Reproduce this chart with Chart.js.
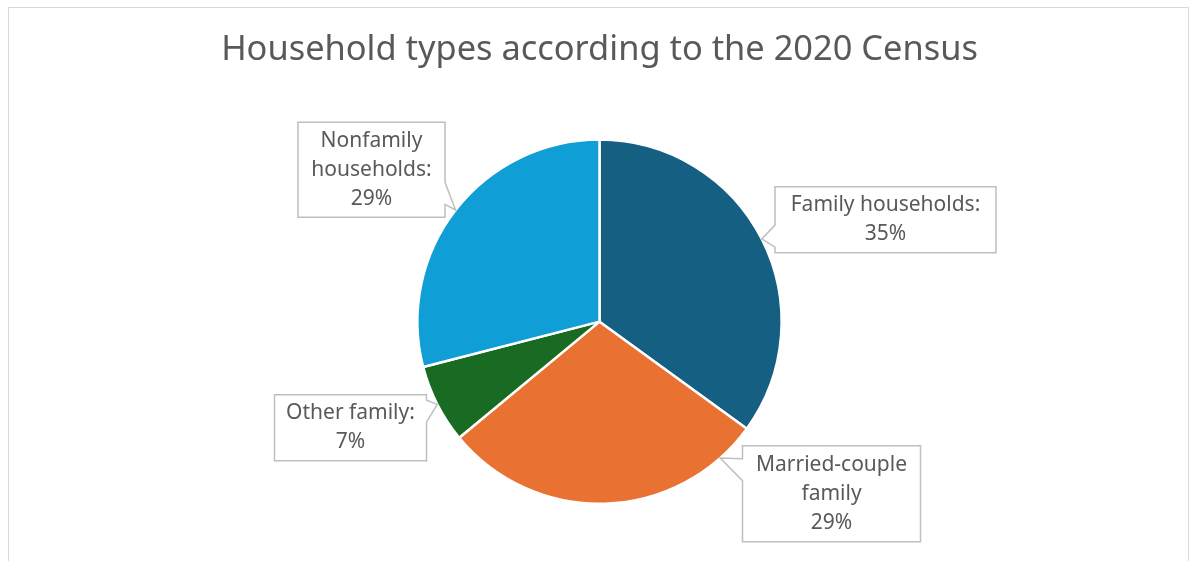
<!DOCTYPE html>
<html>
<head>
<meta charset="utf-8">
<script src="https://cdn.jsdelivr.net/npm/chart.js@4"></script>
<style>
  html, body { margin: 0; padding: 0; background: #fff; }
  #wrap { position: relative; width: 1199px; height: 561px; }
  #frame {
    position: absolute; left: 8px; top: 7px; width: 1181px; height: 600px;
    border: 1.5px solid #d9d9d9; box-sizing: border-box; pointer-events: none;
  }
</style>
</head>
<body>
<div id="wrap">
  <canvas id="censusChart" width="1199" height="561"></canvas>
  <div id="frame"></div>
</div>
<script>
const categories = ['Family households', 'Married-couple family', 'Other family', 'Nonfamily households']
const shares = [35, 29, 7, 29]
const labelLines = [
  ['Family households:', '35%'],
  ['Married-couple', 'family', '29%'],
  ['Other family:', '7%'],
  ['Nonfamily', 'households:', '29%'],
]
const sliceColors = ['#156082', '#e97132', '#196b24', '#0f9ed5']

// callout placement, relative to pie centre
const callouts = [
  { dx: 286, dy: -102, w: 221, h: 66, tip: 0.5 },
  { dx: 232, dy: 172, w: 178, h: 96, tip: 0.12 },
  { dx: -249, dy: 106, w: 152, h: 66, tip: 0.5 },
  { dx: -228, dy: -152, w: 147, h: 95, tip: 0.5 },
]

const textColor = '#595959'
const fontFamily = "'Noto Sans', 'Open Sans', sans-serif"

const calloutPlugin = {
  id: 'callouts',
  afterDatasetsDraw(chart) {
    const ctx = chart.ctx
    const arcs = chart.getDatasetMeta(0).data
    arcs.forEach((arc, i) => {
      const c = callouts[i]
      const ang = arc.startAngle + (arc.endAngle - arc.startAngle) * c.tip
      const tx = arc.x + Math.cos(ang) * arc.outerRadius
      const ty = arc.y + Math.sin(ang) * arc.outerRadius
      const left = arc.x + c.dx - c.w / 2
      const top = arc.y + c.dy - c.h / 2
      const right = left + c.w
      const bottom = top + c.h
      const half = 11

      ctx.save()
      ctx.beginPath()
      if (tx < left || tx > right) {
        const by = Math.min(Math.max(ty, top + c.h * 0.25), bottom - c.h * 0.25)
        if (tx < left) {
          ctx.moveTo(left, top)
          ctx.lineTo(right, top)
          ctx.lineTo(right, bottom)
          ctx.lineTo(left, bottom)
          ctx.lineTo(left, by + half)
          ctx.lineTo(tx, ty)
          ctx.lineTo(left, by - half)
        } else {
          ctx.moveTo(left, top)
          ctx.lineTo(right, top)
          ctx.lineTo(right, by - half)
          ctx.lineTo(tx, ty)
          ctx.lineTo(right, by + half)
          ctx.lineTo(right, bottom)
          ctx.lineTo(left, bottom)
        }
      } else {
        ctx.rect(left, top, c.w, c.h)
      }
      ctx.closePath()
      ctx.fillStyle = '#ffffff'
      ctx.fill()
      ctx.strokeStyle = '#bfbfbf'
      ctx.lineWidth = 1.5
      ctx.stroke()

      ctx.fillStyle = textColor
      ctx.font = '21px ' + fontFamily
      ctx.textAlign = 'center'
      ctx.textBaseline = 'middle'
      const lines = labelLines[i]
      const lh = 29
      const cy = arc.y + c.dy
      lines.forEach((line, k) => {
        ctx.fillText(line, arc.x + c.dx, cy + (k - (lines.length - 1) / 2) * lh)
      })
      ctx.restore()
    })
  },
}

const ctx = document.getElementById('censusChart').getContext('2d')

const censusChart = new Chart(ctx, {
  type: 'pie',
  data: {
    labels: categories,
    datasets: [
      {
        data: shares,
        backgroundColor: sliceColors,
        borderColor: '#ffffff',
        borderWidth: 2.5,
      },
    ],
  },
  options: {
    responsive: false,
    animation: false,
    layout: {
      padding: { top: 0, bottom: 56, left: 0, right: 0 },
    },
    plugins: {
      legend: { display: false },
      tooltip: { enabled: false },
      title: {
        display: true,
        text: 'Household types according to the 2020 Census',
        color: textColor,
        font: { family: fontFamily, size: 34.4, weight: 'normal' },
        padding: { top: 30, bottom: 67 },
      },
    },
  },
  plugins: [calloutPlugin],
})
</script>
</body>
</html>
